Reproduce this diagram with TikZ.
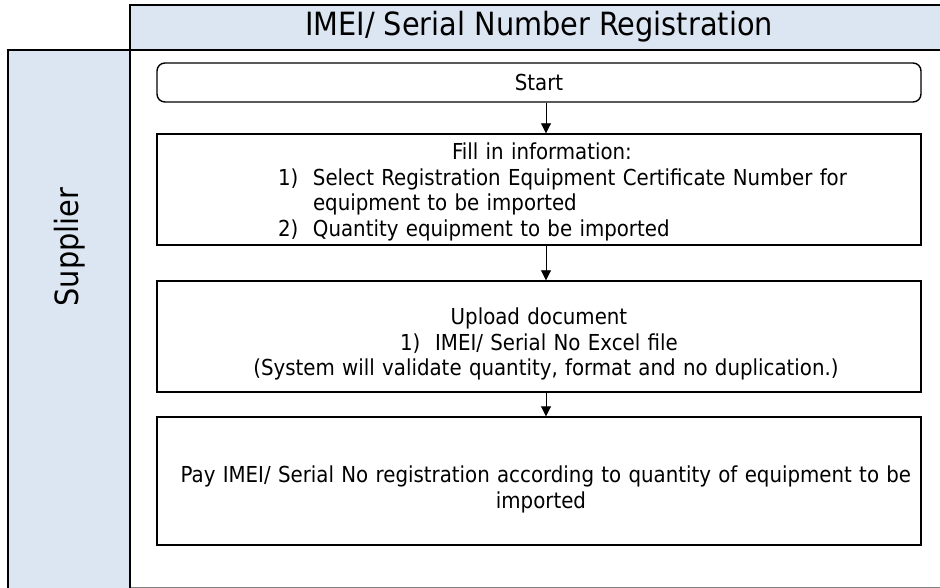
\documentclass[tikz,border=0pt]{standalone}
\usepackage{fontspec}
\setmainfont{DejaVu Sans Condensed}
\usetikzlibrary{arrows.meta}
\definecolor{lanefill}{HTML}{DCE6F2}
\tikzset{
  x=1pt, y=-1pt,
  stepbox/.style={draw=black, line width=1.4pt, fill=white, inner sep=0pt,
    minimum width=764pt, text width=764pt, align=center,
    font=\fontsize{22}{25.5}\selectfont},
  startbox/.style={stepbox, rounded corners=8pt},
  arr/.style={-{Triangle[length=10pt, width=10pt]}, line width=0.9pt},
  lanehead/.style={draw=black, line width=1.6pt, fill=lanefill},
  bigtext/.style={font=\fontsize{32}{36}\selectfont},
}
\newcommand{\lline}[2]{\makebox[764pt][l]{\hspace*{#1pt}#2}}
\newcommand{\cln}[2]{\makebox[764pt][c]{\hspace*{#1pt}#2}}
\begin{document}
\begin{tikzpicture}
\useasboundingbox (0,0) rectangle (940,588);
% header and lane
\fill[lanefill] (130,5) rectangle (945,50);
\draw[line width=1.6pt] (945,5) -- (130,5) -- (130,50) -- (945,50);
\node[bigtext] (title) at (539,27) {IMEI/ Serial Number Registration};
\draw[draw=black!50, line width=1pt] (130,587) -- (945,587);
\draw[lanehead] (8,589) -- (8,50) -- (130,50) -- (130,589);
\node[rotate=90, bigtext] (supplier) at (70,247) {Supplier};
% steps
\node[startbox, minimum height=39pt] (start) at (539,82.5) {Start};
\node[stepbox, minimum height=111pt] (fill) at (539,189.5) {%
  \rule{0pt}{22pt}\cln{6}{Fill in information:}\\
  \lline{121}{\makebox[35pt][l]{1)}Select Registration Equipment Certificate Number for}\\
  \lline{156}{equipment to be imported}\\
  \lline{121}{\makebox[35pt][l]{2)}Quantity equipment to be imported}};
\node[stepbox, minimum height=111pt] (upload) at (539,336.5) {%
  \rule{0pt}{32pt}Upload document\\
  1)\ \ IMEI/ Serial No Excel file\\
  \cln{14}{(System will validate quantity, format and no duplication.)}};
\node[stepbox, minimum height=128pt] (pay) at (539,481) {%
  \rule{0pt}{34pt}\cln{14}{Pay IMEI/ Serial No registration according to quantity of equipment to be}\\
  \cln{4}{imported}};
% connectors
\coordinate (ax) at (546,0);
\draw[arr] (start.south -| ax) -- (fill.north -| ax);
\draw[arr] (fill.south -| ax) -- (upload.north -| ax);
\draw[arr] (upload.south -| ax) -- (pay.north -| ax);
\end{tikzpicture}
\end{document}
